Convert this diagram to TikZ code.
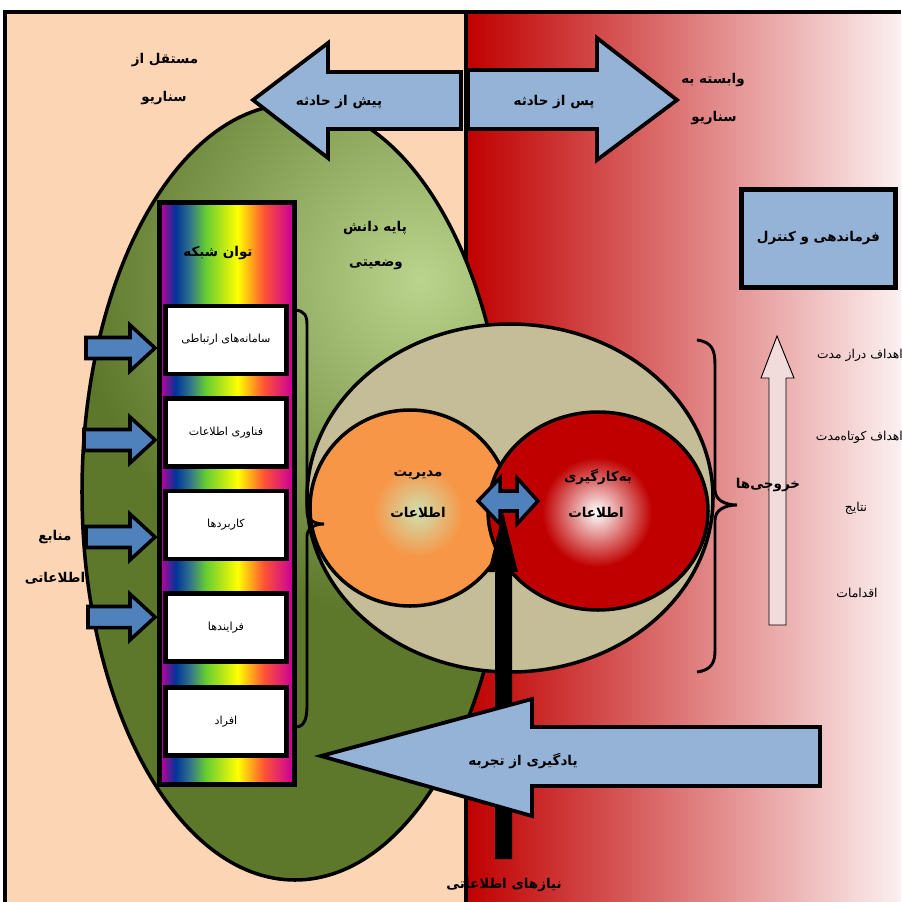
\documentclass[tikz,border=0pt]{standalone}
\usepackage{fontspec}
\newfontfamily\farsi[Script=Arabic]{DejaVu Sans}
\TeXXeTstate=1
\newcommand{\fa}[1]{\beginR#1\endR}
\definecolor{peche}{HTML}{FCD5B5}
\definecolor{rouge}{HTML}{C00000}
\definecolor{rose}{HTML}{FCF0F0}
\definecolor{bleuclair}{HTML}{95B3D7}
\definecolor{bleu}{HTML}{4F81BD}
\definecolor{beige}{HTML}{C4BD97}
\definecolor{corange}{HTML}{F79646}
\definecolor{lueur}{HTML}{CFE0B0}
\definecolor{vertfonce}{HTML}{5D782B}
\definecolor{vertclair}{HTML}{BBD48D}
\definecolor{roseclair}{HTML}{F2DCDB}
\definecolor{spmag}{HTML}{CC0099}
\definecolor{spbleu}{HTML}{003399}
\definecolor{spteal}{HTML}{337788}
\definecolor{spvert}{HTML}{66CC33}
\definecolor{spjaune}{HTML}{FFFF00}
\definecolor{sporange}{HTML}{FF5533}
\pgfdeclarehorizontalshading{spectre}{100bp}{color(0bp)=(spmag); color(25bp)=(spmag); color(30.7bp)=(spbleu); color(36.4bp)=(spteal); color(42bp)=(spvert); color(54bp)=(spjaune); color(63.6bp)=(sporange); color(74.2bp)=(spmag); color(100bp)=(spmag)}
\begin{document}
\begin{tikzpicture}[x=0.03cm,y=-0.03cm,
	contour/.style={draw=black,line width=3pt},
	fleche/.style={draw=black,line width=3.2pt,fill=bleuclair,line join=miter},
	petitefleche/.style={draw=black,line width=3pt,fill=bleu,line join=miter},
	boite/.style={draw=black,line width=4.2pt,fill=white,minimum width=3.63cm,minimum height=2.04cm,font=\farsi\fontsize{9.5}{11}\selectfont},
	titre/.style={font=\farsi\bfseries\fontsize{11.5}{13}\selectfont},
	texte/.style={font=\farsi\fontsize{10.5}{12}\selectfont}]
	\useasboundingbox (0,0) rectangle (901,902);
	\fill[white] (0,0) rectangle (901,902);
	\fill[peche] (5,12) rectangle (466,902); % partie gauche
	\shade[left color=rouge,right color=rose] (466,12) rectangle (901,902); % partie droite
	\draw[line width=3.5pt] (5,902) -- (5,12) -- (901,12);
	\draw[line width=3.5pt] (466,12) -- (466,902);
	% la base de connaissances
	\begin{scope}
		\clip (295,492) ellipse [x radius=213, y radius=388];
		\fill[vertfonce] (0,0) rectangle (901,902);
		\shade[inner color=vertclair,outer color=vertfonce] (420,280) circle [radius=340];
	\end{scope}
	\draw[contour] (295,492) ellipse [x radius=213, y radius=388];
	\node[titre] (base1) at (375,228) {\fa{پایه دانش}};
	\node[titre] (base2) at (376,265) {\fa{وضعیتی}};
	% les fleches du haut
	\draw[fleche] (461,72) -- (328,72) -- (328,43) -- (253,100) -- (328,158) -- (328,129) -- (461,129) -- cycle;
	\node[titre] (avant) at (339,102) {\fa{پیش از حادثه}};
	\draw[fleche] (468,70) -- (597,70) -- (597,38) -- (677,100) -- (597,160) -- (597,129) -- (468,129) -- cycle;
	\node[titre] (apres) at (554,102) {\fa{پس از حادثه}};
	\node[titre] (indep1) at (165,60) {\fa{مستقل از}};
	\node[titre] (indep2) at (164,98) {\fa{سناریو}};
	\node[titre] (dep1) at (713,80) {\fa{وابسته به}};
	\node[titre] (dep2) at (714,118) {\fa{سناریو}};
	% la colonne du reseau
	\shade[shading=spectre] (160,203) rectangle (294,783);
	\draw[line width=4.2pt] (159.5,202.5) rectangle (294.5,784.5);
	\node[titre] (reseau) at (218,253) {\fa{توان شبکه}};
	\node[boite] (sam) at (226,340) {\fa{سامانه‌های ارتباطی}};
	\node[boite] (fan) at (226,432.5) {\fa{فناوری اطلاعات}};
	\node[boite] (kar) at (226,525) {\fa{کاربردها}};
	\node[boite] (far) at (226,627.5) {\fa{فرایندها}};
	\node[boite] (afr) at (226,721.5) {\fa{افراد}};
	% les sources
	\draw[petitefleche] (86,348) ++(0,-10.5) -- ++(44,0) -- ++(0,-12.5) -- ++(25,23) -- ++(-25,23) -- ++(0,-12.5) -- ++(-44,0) -- cycle;
	\draw[petitefleche] (84,440) ++(0,-10.5) -- ++(46,0) -- ++(0,-12.5) -- ++(25,23) -- ++(-25,23) -- ++(0,-12.5) -- ++(-46,0) -- cycle;
	\draw[petitefleche] (86,537) ++(0,-10.5) -- ++(44,0) -- ++(0,-12.5) -- ++(25,23) -- ++(-25,23) -- ++(0,-12.5) -- ++(-44,0) -- cycle;
	\draw[petitefleche] (88,617) ++(0,-10.5) -- ++(42,0) -- ++(0,-12.5) -- ++(25,23) -- ++(-25,23) -- ++(0,-12.5) -- ++(-42,0) -- cycle;
	\node[titre] (src1) at (55,537) {\fa{منابع}};
	\node[titre] (src2) at (55,578) {\fa{اطلاعاتی}};
	% gestion et exploitation de l'information
	\draw[contour,fill=beige] (510,498) ellipse [x radius=203, y radius=174];
	\fill[corange] (410,508) ellipse [x radius=100, y radius=98];
	\shade[inner color=lueur,outer color=corange] (418,512) circle [radius=45];
	\draw[contour] (410,508) ellipse [x radius=100, y radius=98];
	\fill[rouge] (598,511) ellipse [x radius=110, y radius=99];
	\shade[inner color=white,outer color=rouge] (597,512) circle [radius=55];
	\draw[contour] (598,511) ellipse [x radius=110, y radius=99];
	\node[titre] (ges1) at (418,475) {\fa{مدیریت}};
	\node[titre] (ges2) at (418,512) {\fa{اطلاعات}};
	\node[titre] (exp1) at (598,477) {\fa{به‌کارگیری}};
	\node[titre] (exp2) at (596,512) {\fa{اطلاعات}};
	\draw[line width=2.5pt] (295,310) .. controls (305,311) and (307,316) .. (307,325) -- (307,512) .. controls (307,520) and (315,524) .. (324,524) .. controls (315,524) and (307,528) .. (307,536) -- (307,705) .. controls (307,722) and (303,727) .. (295,727);
	% les besoins
	\fill[black] (495,859) -- (495,572) -- (488,572) -- (503,512) -- (518,572) -- (512,572) -- (512,859) -- cycle;
	\draw[petitefleche] (478,501) -- (500,478) -- (500,491) -- (517,491) -- (517,478) -- (538,501) -- (517,524) -- (517,511) -- (500,511) -- (500,524) -- cycle;
	\draw[fleche] (820,727) -- (532,727) -- (532,699) -- (321,756) -- (532,816) -- (532,786) -- (820,786) -- cycle;
	\node[titre] (appr) at (523,761) {\fa{یادگیری از تجربه}};
	\node[titre] (besoin) at (504,885) {\fa{نیازهای اطلاعاتی}};
	% commandement et sorties
	\node[draw=black,line width=4.2pt,fill=bleuclair,minimum width=4.62cm,minimum height=2.94cm,titre] (cmd) at (818.5,238.5) {\fa{فرماندهی و کنترل}};
	\draw[line width=2.5pt] (697,340) .. controls (712,342) and (715,350) .. (715,365) -- (715,490) .. controls (715,500) and (725,505) .. (737,505) .. controls (725,505) and (715,510) .. (715,520) -- (715,650) .. controls (715,662) and (712,670) .. (697,672);
	\draw[fill=roseclair,line width=0.8pt] (769,625) -- (769,378) -- (761,378) -- (777,336) -- (794,378) -- (786,378) -- (786,625) -- cycle;
	\node[titre] (sorties) at (768,485) {\fa{خروجی‌ها}};
	\node[texte,anchor=east] (obj1) at (907,355) {\fa{اهداف  دراز مدت}};
	\node[texte,anchor=east] (obj2) at (907,437) {\fa{اهداف کوتاه‌مدت}};
	\node[texte] (res) at (856,508) {\fa{نتایج}};
	\node[texte] (act) at (857,593) {\fa{اقدامات}};
\end{tikzpicture}
\end{document}
